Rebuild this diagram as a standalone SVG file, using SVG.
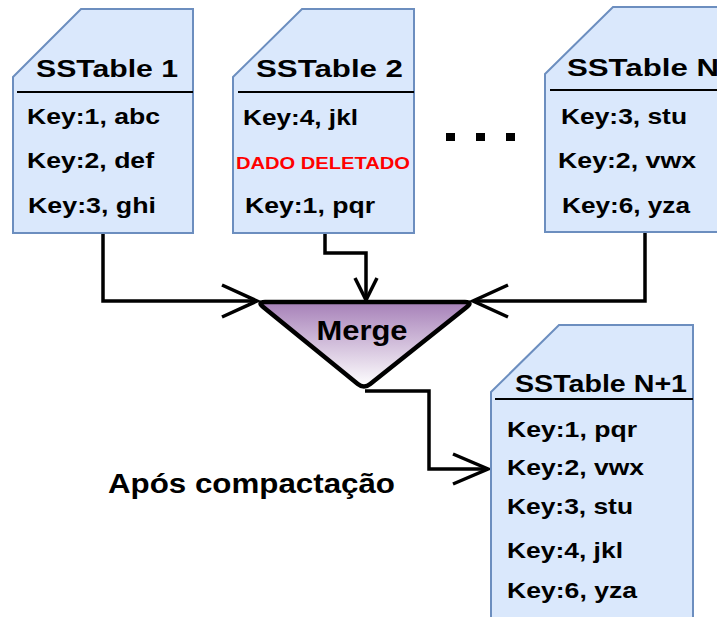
<svg xmlns="http://www.w3.org/2000/svg" width="717" height="617" viewBox="0 0 717 617">
  <style>
    .box { fill: #dae8fc; stroke: #6c8ebf; stroke-width: 2; }
    .rule { stroke: #000; stroke-width: 2; }
    .title { font-family: "Liberation Sans", Arial, sans-serif; font-weight: bold; font-size: 24px; fill: #000; }
    .key { font-family: "Liberation Sans", Arial, sans-serif; font-weight: bold; font-size: 22.5px; fill: #000; }
    .del { font-family: "Liberation Sans", Arial, sans-serif; font-weight: bold; font-size: 16px; fill: #ff0000; }
    .big { font-family: "Liberation Sans", Arial, sans-serif; font-weight: bold; font-size: 28px; fill: #000; }
    .wire { fill: none; stroke: #000; stroke-width: 3.5; }
    .head { fill: none; stroke: #000; stroke-width: 3.5; }
  </style>
  <defs>
    <linearGradient id="mergeFill" x1="0" y1="0" x2="0" y2="1">
      <stop offset="0" stop-color="#a680b8"/>
      <stop offset="1" stop-color="#ffffff"/>
    </linearGradient>
  </defs>

  <rect width="717" height="617" fill="#ffffff"/>

  <!-- connectors -->
  <g id="connectors">
    <path class="wire" d="M103,233 V301 H255"/>
    <path class="head" d="M222,285 L257,301 L222,317"/>

    <path class="wire" d="M325,233 V253 H366 V298"/>
    <path class="head" d="M355,278 L366,300 L377,278"/>

    <path class="wire" d="M645,225 V301 H475"/>
    <path class="head" d="M508,285 L473,301 L508,317"/>

    <path class="wire" d="M365,391 H429 V469 H486"/>
    <path class="head" d="M453,454 L488,469 L453,484"/>
  </g>

  <!-- SSTable 1 -->
  <g id="sstable1">
    <path class="box" d="M13,77 L81,9 L193,9 L193,233 L13,233 Z"/>
    <line class="rule" x1="17" y1="92" x2="193" y2="92"/>
    <text class="title" x="36" y="77" textLength="142" lengthAdjust="spacingAndGlyphs">SSTable 1</text>
    <text class="key" x="27" y="124" textLength="133" lengthAdjust="spacingAndGlyphs">Key:1, abc</text>
    <text class="key" x="27" y="168" textLength="127" lengthAdjust="spacingAndGlyphs">Key:2, def</text>
    <text class="key" x="28" y="213" textLength="128" lengthAdjust="spacingAndGlyphs">Key:3, ghi</text>
  </g>

  <!-- SSTable 2 -->
  <g id="sstable2">
    <path class="box" d="M233,77 L302,9 L414,9 L414,233 L233,233 Z"/>
    <line class="rule" x1="238" y1="92" x2="414" y2="92"/>
    <text class="title" x="256" y="77" textLength="147" lengthAdjust="spacingAndGlyphs">SSTable 2</text>
    <text class="key" x="243" y="125" textLength="115" lengthAdjust="spacingAndGlyphs">Key:4, jkl</text>
    <text class="del" x="236" y="169" textLength="174" lengthAdjust="spacingAndGlyphs">DADO DELETADO</text>
    <text class="key" x="245" y="213" textLength="130" lengthAdjust="spacingAndGlyphs">Key:1, pqr</text>
  </g>

  <!-- ellipsis between tables -->
  <g id="ellipsis" fill="#000">
    <rect x="446" y="133" width="9" height="8"/>
    <rect x="476" y="133" width="9" height="8"/>
    <rect x="506" y="133" width="9" height="8"/>
  </g>

  <!-- SSTable N -->
  <g id="sstableN">
    <path class="box" d="M545,74 L613,7 L722,7 L722,232 L545,232 Z"/>
    <line class="rule" x1="550" y1="90" x2="720" y2="90"/>
    <text class="title" x="567" y="76" textLength="152" lengthAdjust="spacingAndGlyphs">SSTable N</text>
    <text class="key" x="561" y="124" textLength="126" lengthAdjust="spacingAndGlyphs">Key:3, stu</text>
    <text class="key" x="558" y="168" textLength="138" lengthAdjust="spacingAndGlyphs">Key:2, vwx</text>
    <text class="key" x="562" y="213" textLength="128" lengthAdjust="spacingAndGlyphs">Key:6, yza</text>
  </g>

  <!-- Merge: inverted triangle with rounded corners -->
  <g id="merge">
    <path d="M265,302 L465,302 Q473,302 466.8,307 L370.2,384 Q364,389 357.8,384 L263.2,307 Q257,302 265,302 Z" fill="url(#mergeFill)" stroke="#000" stroke-width="4.5" stroke-linejoin="round"/>
    <text class="big" x="362" y="340" text-anchor="middle" textLength="91" lengthAdjust="spacingAndGlyphs">Merge</text>
  </g>

  <!-- SSTable N+1 -->
  <g id="sstableN1">
    <path class="box" d="M491,392 L559,325 L693,325 L693,622 L491,622 Z"/>
    <line class="rule" x1="495" y1="399" x2="693" y2="399"/>
    <text class="title" x="515" y="392" textLength="172" lengthAdjust="spacingAndGlyphs">SSTable N+1</text>
    <text class="key" x="507" y="437" textLength="130" lengthAdjust="spacingAndGlyphs">Key:1, pqr</text>
    <text class="key" x="507" y="475" textLength="137" lengthAdjust="spacingAndGlyphs">Key:2, vwx</text>
    <text class="key" x="507" y="514" textLength="126" lengthAdjust="spacingAndGlyphs">Key:3, stu</text>
    <text class="key" x="507" y="558" textLength="116" lengthAdjust="spacingAndGlyphs">Key:4, jkl</text>
    <text class="key" x="507" y="598" textLength="130" lengthAdjust="spacingAndGlyphs">Key:6, yza</text>
  </g>

  <!-- caption -->
  <g id="caption">
    <text class="big" x="108" y="493" textLength="287" lengthAdjust="spacingAndGlyphs">Após compactação</text>
  </g>
</svg>
